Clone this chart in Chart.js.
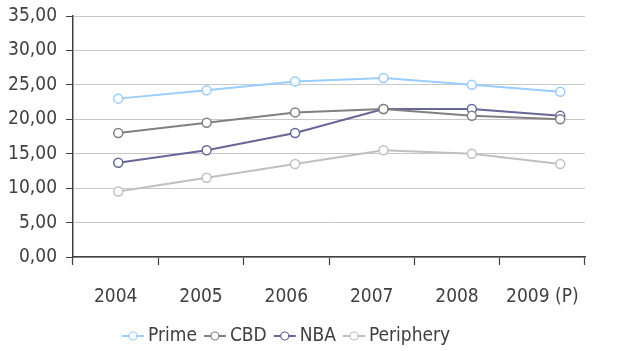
<!DOCTYPE html>
<html>
<head>
<meta charset="utf-8">
<script src="https://cdn.jsdelivr.net/npm/chart.js@4/dist/chart.umd.min.js"></script>
<style>
  html, body { margin: 0; padding: 0; background: #ffffff; }
  #wrap { width: 627px; height: 351px; position: relative; }
</style>
</head>
<body>
<div id="wrap"><canvas id="c"></canvas></div>
<script>
// Years on the category axis
const years = ['2004', '2005', '2006', '2007', '2008', '2009 (P)'];

// Series values
const prime = [23.0, 24.2, 25.5, 26.0, 25.0, 24.0];
const cbd = [18.0, 19.5, 21.0, 21.5, 20.5, 20.0];
const nba = [13.7, 15.5, 18.0, 21.5, 21.5, 20.5];
const periphery = [9.5, 11.5, 13.5, 15.5, 15.0, 13.5];

const seriesNames = ['Prime', 'CBD', 'NBA', 'Periphery'];
const seriesValues = [prime, cbd, nba, periphery];
const seriesColors = ['#99ccff', '#808080', '#666699', '#c0c0c0'];

const FONT = "'Liberation Sans Narrow', 'Arial Narrow', 'DejaVu Sans Condensed', sans-serif";
const FONT_SIZE = 19;
const TEXT = '#404040';

const datasets = seriesNames.map((name, s) => ({
  label: name,
  data: seriesValues[s].map((v, i) => ({ x: i, y: v })),
  xAxisID: 'xp',
  borderColor: seriesColors[s],
  backgroundColor: '#ffffff',
  pointBackgroundColor: '#ffffff',
  pointBorderColor: seriesColors[s],
  pointBorderWidth: 1.5,
  pointRadius: 4.5,
  borderWidth: 2,
  tension: 0
}));

// Legend drawn below the axis: short line with an open circle, then the name
const legendPlugin = {
  id: 'lineLegend',
  afterDraw(chart) {
    const ctx = chart.ctx;
    ctx.save();
    ctx.font = FONT_SIZE + 'px ' + FONT;
    ctx.textBaseline = 'middle';
    const y = 336;
    let x = 122;
    seriesNames.forEach((name, s) => {
      ctx.strokeStyle = seriesColors[s];
      ctx.lineWidth = 2;
      ctx.beginPath();
      ctx.moveTo(x, y);
      ctx.lineTo(x + 22, y);
      ctx.stroke();
      ctx.beginPath();
      ctx.arc(x + 11, y, 4, 0, Math.PI * 2);
      ctx.fillStyle = '#ffffff';
      ctx.fill();
      ctx.lineWidth = 1.2;
      ctx.stroke();
      ctx.fillStyle = TEXT;
      ctx.fillText(name, x + 26, y);
      x += 26 + ctx.measureText(name).width + 7;
    });
    ctx.restore();
  }
};

new Chart(document.getElementById('c'), {
  type: 'line',
  data: { labels: years, datasets },
  options: {
    responsive: true,
    maintainAspectRatio: false,
    animation: false,
    layout: { padding: { left: 0, right: 42, top: 16, bottom: 0 } },
    plugins: { legend: { display: false }, tooltip: { enabled: false } },
    scales: {
      x: {
        type: 'category',
        labels: years,
        offset: true,
        afterFit(scale) { scale.height = 94; scale.paddingLeft = 0; scale.paddingRight = 0; },
        grid: {
          offset: true,
          drawOnChartArea: false,
          drawTicks: true,
          tickLength: 8,
          tickColor: '#404040',
          tickWidth: 1.2
        },
        border: { color: '#404040', width: 1.5 },
        ticks: { color: TEXT, font: { family: FONT, size: FONT_SIZE }, padding: 21, maxRotation: 0 }
      },
      xp: {
        type: 'linear',
        display: false,
        min: -0.512,
        max: 5.28
      },
      y: {
        min: 0,
        max: 35,
        afterFit(scale) { scale.width = 73; scale.paddingTop = 0; scale.paddingBottom = 0; },
        grid: {
          color: '#c8c8c8',
          lineWidth: 1,
          tickColor: '#404040',
          tickLength: 7
        },
        border: { color: '#404040', width: 1.5 },
        ticks: {
          stepSize: 5,
          color: TEXT,
          padding: 9,
          font: { family: FONT, size: FONT_SIZE },
          callback: v => v.toFixed(2).replace('.', ',')
        }
      }
    }
  },
  plugins: [legendPlugin]
});
</script>
</body>
</html>
